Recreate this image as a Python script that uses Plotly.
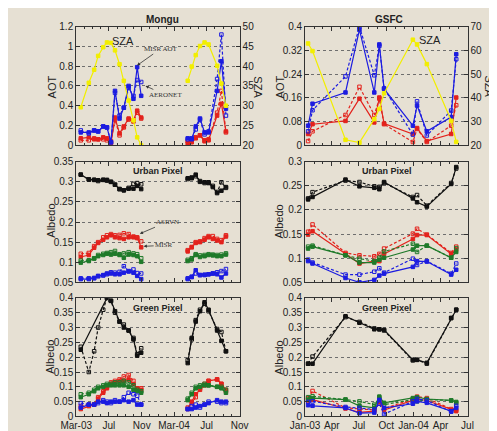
import plotly.graph_objects as go

# ---------------- data ----------------
# Mongu dates
mongu_03 = ["2003-03-18","2003-04-17","2003-05-07","2003-05-22","2003-06-10","2003-06-24","2003-07-09",
            "2003-07-24","2003-08-10","2003-08-26","2003-09-13","2003-10-01","2003-10-15","2003-10-30"]
mongu_04_aot = ["2004-04-21","2004-05-06","2004-05-21","2004-06-06","2004-06-23","2004-07-08",
                "2004-08-09","2004-08-25","2004-09-11"]
mongu_04_alb = ["2004-04-21","2004-05-06","2004-05-21","2004-06-06","2004-06-23","2004-07-08",
                "2004-07-24","2004-08-09","2004-08-25","2004-09-11"]
mongu_04_grn = mongu_04_aot

# Mongu AOT
m_blue_solid_03 = [0.13,0.13,0.15,0.14,0.19,0.18,0.03,0.55,0.27,0.38,0.60,0.47,0.79,0.50]
m_blue_dash_03  = [0.15,0.12,0.15,0.14,0.19,0.18,0.03,0.53,0.30,0.38,0.58,0.50,0.66,0.64]
m_red_solid_03  = [0.07,0.08,0.06,0.06,0.08,0.07,0.02,0.28,0.12,0.19,0.27,0.25,0.35,0.28]
m_red_dash_03   = [0.05,0.05,0.07,0.06,0.06,0.05,0.04,0.26,0.10,0.18,0.26,0.24,0.33,0.27]
m_blue_solid_04 = [0.07,0.06,0.19,0.27,0.13,0.13,0.55,0.85,0.37]
m_blue_dash_04  = [0.06,0.07,0.16,0.26,0.11,0.14,0.67,1.12,0.30]
m_red_solid_04  = [0.02,0.03,0.07,0.10,0.04,0.05,0.30,0.42,0.14]
m_red_dash_04   = [0.04,0.05,0.08,0.10,0.05,0.06,0.33,0.55,0.13]
m_sza_03 = [29.6,35.8,39.1,42.6,44.8,46.0,45.9,44.0,40.5,36.3,31.3,26.3,22.0,20.0]
m_sza_04 = [36.3,39.9,42.8,45.1,46.0,45.5,40.1,35.6,30.0]

# Mongu urban albedo
mu_black_s_03 = [0.318,0.306,0.305,0.304,0.305,0.305,0.300,0.293,0.282,0.279,0.283,0.283,0.290,0.282]
mu_black_d_03 = [0.318,0.306,0.305,0.302,0.305,0.303,0.300,0.293,0.282,0.279,0.285,0.295,0.297,0.294]
mu_red_s_03   = [0.113,0.118,0.136,0.148,0.156,0.162,0.167,0.162,0.160,0.158,0.162,0.162,0.160,0.137]
mu_red_d_03   = [0.121,0.123,0.140,0.150,0.162,0.167,0.170,0.167,0.168,0.172,0.170,0.164,0.162,0.152]
mu_green_s_03 = [0.099,0.103,0.109,0.115,0.118,0.121,0.119,0.121,0.118,0.111,0.119,0.118,0.115,0.101]
mu_green_d_03 = [0.104,0.105,0.110,0.118,0.121,0.123,0.125,0.128,0.120,0.122,0.125,0.122,0.120,0.110]
mu_blue_s_03  = [0.058,0.058,0.060,0.066,0.068,0.072,0.072,0.070,0.070,0.074,0.077,0.074,0.066,0.058]
mu_blue_d_03  = [0.060,0.060,0.061,0.065,0.067,0.070,0.075,0.074,0.076,0.090,0.078,0.082,0.073,0.072]
mu_black_s_04 = [0.309,0.309,0.318,0.300,0.299,0.297,0.287,0.272,0.278,0.287]
mu_black_d_04 = [0.307,0.311,0.314,0.302,0.297,0.299,0.290,0.275,0.299,0.285]
mu_red_s_04   = [0.127,0.137,0.148,0.150,0.156,0.162,0.158,0.154,0.150,0.164]
mu_red_d_04   = [0.130,0.138,0.150,0.152,0.160,0.165,0.165,0.158,0.155,0.167]
mu_green_s_04 = [0.103,0.107,0.118,0.113,0.115,0.118,0.117,0.115,0.115,0.119]
mu_green_d_04 = [0.106,0.110,0.120,0.117,0.118,0.120,0.119,0.118,0.119,0.122]
mu_blue_s_04  = [0.058,0.064,0.080,0.068,0.069,0.070,0.072,0.070,0.062,0.072]
mu_blue_d_04  = [0.060,0.063,0.072,0.068,0.068,0.070,0.072,0.075,0.078,0.083]

# Mongu green albedo
mg_black_s_03 = [0.225,None,None,None,None,0.400,0.390,0.355,0.320,0.300,0.290,0.260,0.205,0.215]
mg_black_d_03 = [0.235,0.150,0.220,0.300,0.360,0.400,0.390,0.350,0.320,0.310,0.290,0.265,0.210,0.230]
mg_red_s_03   = [0.025,0.035,0.040,0.060,0.080,0.095,0.110,0.115,0.120,0.120,0.125,0.110,0.095,0.090]
mg_red_d_03   = [0.035,0.040,0.040,0.065,0.085,0.100,0.115,0.120,0.125,0.135,0.140,0.120,0.095,0.095]
mg_green_s_03 = [0.065,0.075,0.085,0.095,0.100,0.105,0.105,0.105,0.105,0.105,0.100,0.090,0.085,0.080]
mg_green_d_03 = [0.075,0.080,0.090,0.100,0.105,0.110,0.110,0.115,0.115,0.120,0.115,0.105,0.090,0.085]
mg_blue_s_03  = [0.030,0.040,0.040,0.050,0.050,0.045,0.050,0.050,0.050,0.055,0.050,0.055,0.040,0.040]
mg_blue_d_03  = [0.045,0.040,0.040,0.045,0.055,0.050,0.045,0.055,0.050,0.065,0.080,0.075,0.070,0.040]
mg_black_s_04 = [0.180,0.265,0.320,0.355,0.385,0.360,0.290,0.255,0.220]
mg_black_d_04 = [0.190,0.260,0.325,0.360,0.380,0.355,0.295,0.285,0.220]
mg_red_s_04   = [0.025,0.050,0.075,0.090,0.105,0.120,0.125,0.110,0.090]
mg_red_d_04   = [0.030,0.045,0.065,0.095,0.110,0.120,0.125,0.110,0.085]
mg_green_s_04 = [0.055,0.075,0.095,0.100,0.105,0.105,0.100,0.095,0.080]
mg_green_d_04 = [0.060,0.080,0.100,0.105,0.110,0.105,0.100,0.100,0.090]
mg_blue_s_04  = [0.025,0.025,0.030,0.035,0.040,0.045,0.055,0.050,0.050]
mg_blue_d_04  = [0.025,0.035,0.040,0.030,0.040,0.050,0.050,0.045,0.045]

# GSFC dates
gsfc = ["2003-01-11","2003-01-26","2003-05-17","2003-07-03","2003-08-22","2003-09-08","2003-09-24",
        "2003-12-30","2004-01-13","2004-02-15","2004-05-07","2004-05-24"]
g_blue_solid = [0.066,0.140,0.178,0.390,0.178,0.340,0.190,0.066,0.134,0.047,0.095,0.307]
g_blue_dash  = [0.047,0.118,0.232,0.400,0.236,0.335,0.192,0.036,0.148,0.033,0.117,0.290]
g_red_solid  = [0.038,0.071,0.082,0.157,0.077,0.161,0.073,0.038,0.058,0.014,0.038,0.161]
g_red_dash   = [0.014,0.047,0.102,0.197,0.102,0.157,0.071,0.011,0.055,0.011,0.066,0.135]
g_sza        = [62.9,59.7,22.3,21.1,31.0,35.3,41.9,64.5,62.5,54.2,30.3,21.4]

gu_black_s = [0.222,0.227,0.263,0.249,0.246,0.243,0.258,0.224,0.216,0.207,0.254,0.289]
gu_black_d = [0.224,0.237,0.261,0.258,0.249,0.248,0.256,0.227,0.231,0.209,0.256,0.286]
gu_red_s   = [0.149,0.156,0.109,0.089,0.094,0.094,0.109,0.140,0.148,0.148,0.109,0.118]
gu_red_d   = [0.155,0.170,0.111,0.106,0.104,0.109,0.120,0.151,0.161,0.149,0.111,0.124]
gu_green_s = [0.120,0.124,0.106,0.091,0.091,0.097,0.101,0.118,0.126,0.126,0.101,0.113]
gu_green_d = [0.124,0.126,0.106,0.099,0.094,0.101,0.114,0.130,0.113,0.126,0.101,0.121]
gu_blue_s  = [0.094,0.089,0.059,0.050,0.055,0.064,0.068,0.082,0.094,0.093,0.066,0.076]
gu_blue_d  = [0.097,0.091,0.066,0.066,0.072,0.079,0.070,0.099,0.086,0.094,0.068,0.089]

gg_black_s = [0.178,0.178,0.338,0.316,0.294,0.294,0.292,0.191,0.191,0.181,0.332,0.360]
gg_black_d = [0.178,0.202,0.335,0.319,0.297,0.294,0.290,0.189,0.191,0.178,0.332,0.360]
gg_red_s   = [0.054,0.057,0.027,0.014,0.018,0.049,0.022,0.054,0.059,0.054,0.022,0.018]
gg_red_d   = [0.062,0.086,0.029,0.025,0.022,0.051,0.027,0.059,0.067,0.062,0.025,0.022]
gg_green_s = [0.057,0.062,0.057,0.036,0.029,0.067,0.046,0.062,0.065,0.059,0.054,0.049]
gg_green_d = [0.065,0.068,0.057,0.051,0.040,0.062,0.040,0.057,0.051,0.057,0.054,0.046]
gg_blue_s  = [0.038,0.036,0.029,0.011,0.013,0.056,0.029,0.043,0.051,0.046,0.018,0.029]
gg_blue_d  = [0.049,0.051,0.032,0.029,0.024,0.043,0.008,0.051,0.059,0.054,0.016,0.036]

left_tickvals = ["2003-03-01","2003-07-01","2003-11-01","2004-03-01","2004-07-01","2004-11-01"]
left_ticktext = ["Mar-03","Jul","Nov","Mar-04","Jul","Nov"]
right_tickvals = ["2003-01-01","2003-04-01","2003-07-01","2003-10-01","2004-01-01","2004-04-01","2004-07-01"]
right_ticktext = ["Jan-03","Apr","Jul","Oct","Jan-04","Apr","Jul"]

# ---------------- styles ----------------
BLACK = "#111111"; RED = "#e3221c"; GREEN = "#1f7a2a"; BLUE = "#1c1ce0"; YELLOW = "#f2ee00"
BG = "#e6e0d3"
W, H = 497, 431

fig = go.Figure()

def add(x, y, color, dashed, xa, ya, marker=None):
    fig.add_trace(go.Scatter(
        x=x, y=y, xaxis=xa, yaxis=ya, mode="lines+markers", connectgaps=True,
        line=dict(color=color, width=1.2, dash="3px,2px" if dashed else "solid"),
        marker=dict(symbol=marker or ("square-open" if dashed else "square"), size=3.5,
                    color=color, line=dict(color=color, width=1)),
        showlegend=False, hoverinfo="skip"))

# Mongu AOT
add(mongu_03, m_sza_03, YELLOW, False, "x", "y7")
add(mongu_04_aot, m_sza_04, YELLOW, False, "x", "y7")
for d, s, c in [(m_red_dash_03, m_red_solid_03, RED), (m_blue_dash_03, m_blue_solid_03, BLUE)]:
    add(mongu_03, d, c, True, "x", "y"); add(mongu_03, s, c, False, "x", "y")
for d, s, c in [(m_red_dash_04, m_red_solid_04, RED), (m_blue_dash_04, m_blue_solid_04, BLUE)]:
    add(mongu_04_aot, d, c, True, "x", "y"); add(mongu_04_aot, s, c, False, "x", "y")

# GSFC AOT
add(gsfc, g_sza, YELLOW, False, "x2", "y8")
add(gsfc, g_red_dash, RED, True, "x2", "y2"); add(gsfc, g_red_solid, RED, False, "x2", "y2")
add(gsfc, g_blue_dash, BLUE, True, "x2", "y2"); add(gsfc, g_blue_solid, BLUE, False, "x2", "y2")

# Mongu urban
for s3, d3, s4, d4, c in [
    (mu_black_s_03, mu_black_d_03, mu_black_s_04, mu_black_d_04, BLACK),
    (mu_red_s_03, mu_red_d_03, mu_red_s_04, mu_red_d_04, RED),
    (mu_green_s_03, mu_green_d_03, mu_green_s_04, mu_green_d_04, GREEN),
    (mu_blue_s_03, mu_blue_d_03, mu_blue_s_04, mu_blue_d_04, BLUE)]:
    add(mongu_03, d3, c, True, "x3", "y3"); add(mongu_03, s3, c, False, "x3", "y3")
    add(mongu_04_alb, d4, c, True, "x3", "y3"); add(mongu_04_alb, s4, c, False, "x3", "y3")

# GSFC urban
for s, d, c in [(gu_black_s, gu_black_d, BLACK), (gu_red_s, gu_red_d, RED),
                (gu_green_s, gu_green_d, GREEN), (gu_blue_s, gu_blue_d, BLUE)]:
    add(gsfc, d, c, True, "x4", "y4"); add(gsfc, s, c, False, "x4", "y4")

# Mongu green
for s3, d3, s4, d4, c in [
    (mg_black_s_03, mg_black_d_03, mg_black_s_04, mg_black_d_04, BLACK),
    (mg_red_s_03, mg_red_d_03, mg_red_s_04, mg_red_d_04, RED),
    (mg_green_s_03, mg_green_d_03, mg_green_s_04, mg_green_d_04, GREEN),
    (mg_blue_s_03, mg_blue_d_03, mg_blue_s_04, mg_blue_d_04, BLUE)]:
    add(mongu_03, d3, c, True, "x5", "y5"); add(mongu_03, s3, c, False, "x5", "y5")
    add(mongu_04_grn, d4, c, True, "x5", "y5"); add(mongu_04_grn, s4, c, False, "x5", "y5")

# GSFC green
for s, d, c in [(gg_black_s, gg_black_d, BLACK), (gg_red_s, gg_red_d, RED),
                (gg_green_s, gg_green_d, GREEN), (gg_blue_s, gg_blue_d, BLUE)]:
    add(gsfc, d, c, True, "x6", "y6"); add(gsfc, s, c, False, "x6", "y6")

# ---------------- layout ----------------
def px_x(p): return p / W
def px_y(p): return 1 - p / H

LX = [px_x(55), px_x(227)]
RX = [px_x(296), px_x(467)]
ROWS = [[px_y(135), px_y(13)], [px_y(276), px_y(152)], [px_y(414), px_y(292)]]

AX = dict(showline=True, linecolor="#333333", linewidth=1, ticks="inside", ticklen=4,
          tickcolor="#333333", tickfont=dict(size=10, color="#222222"), zeroline=False)
GRID = dict(showgrid=True, gridcolor="#6e6e6e", griddash="dot", gridwidth=1)

def xaxis(domain, anchor, left, show):
    d = dict(AX, domain=domain, anchor=anchor, type="date", showgrid=False, mirror="ticks",
             tickmode="array",
             tickvals=left_tickvals if left else right_tickvals,
             ticktext=left_ticktext if left else right_ticktext,
             range=["2003-03-01", "2004-11-01"] if left else ["2003-01-01", "2004-07-01"],
             showticklabels=show,
             minor=dict(ticks="inside", ticklen=2, dtick="M1", tick0="2003-01-01", tickcolor="#333333"))
    return d

def yaxis(domain, anchor, rng, dtick, mirror="ticks"):
    return dict(AX, **GRID, domain=domain, anchor=anchor, range=rng, dtick=dtick, tick0=0,
                mirror=mirror)

layout = dict(
    width=W, height=H, margin=dict(l=0, r=0, t=0, b=0),
    paper_bgcolor=BG, plot_bgcolor=BG,
    font=dict(family="Liberation Sans, Arial, sans-serif", color="#222222"),
    xaxis=xaxis(LX, "y", True, False),
    xaxis2=xaxis(RX, "y2", False, False),
    xaxis3=xaxis(LX, "y3", True, False),
    xaxis4=xaxis(RX, "y4", False, False),
    xaxis5=xaxis(LX, "y5", True, True),
    xaxis6=xaxis(RX, "y6", False, True),
    yaxis=yaxis(ROWS[0], "x", [0, 1.2], 0.2, mirror=True),
    yaxis2=yaxis(ROWS[0], "x2", [0, 0.4], 0.08, mirror=True),
    yaxis3=yaxis(ROWS[1], "x3", [0.05, 0.35], 0.05),
    yaxis4=yaxis(ROWS[1], "x4", [0.05, 0.3], 0.05),
    yaxis5=yaxis(ROWS[2], "x5", [0, 0.4], 0.05),
    yaxis6=yaxis(ROWS[2], "x6", [0, 0.4], 0.05),
    yaxis7=dict(AX, overlaying="y", anchor="x", side="right", range=[20, 50], dtick=5, showgrid=False),
    yaxis8=dict(AX, overlaying="y2", anchor="x2", side="right", range=[20, 70], dtick=10, showgrid=False),
)
fig.update_layout(**layout)

def text(s, x, y, size=11, bold=False, angle=0, family=None, color="#222222"):
    fig.add_annotation(text=f"<b>{s}</b>" if bold else s, x=px_x(x), y=px_y(y), xref="paper", yref="paper",
                       showarrow=False, textangle=angle,
                       font=dict(size=size, family=family or "Liberation Sans, Arial, sans-serif", color=color),
                       xanchor="center", yanchor="middle")

def arrow(s, tipx, tipy, ax, ay):
    fig.add_annotation(text=s, x=px_x(tipx), y=px_y(tipy), xref="paper", yref="paper",
                       showarrow=True, ax=ax, ay=ay, arrowhead=2, arrowsize=0.8, arrowwidth=0.8,
                       arrowcolor="#333333",
                       font=dict(size=7, family="Liberation Serif, Times New Roman, serif", color="#333333"))

text("Mongu", 146, 6, size=10, bold=True)
text("GSFC", 384, 6, size=10, bold=True)
text("AOT", 29, 75, size=11, angle=-90)
text("SZA", 247, 75, size=11, angle=90)
text("AOT", 269, 75, size=11, angle=-90)
text("SZA", 490, 75, size=11, angle=90)
text("Albedo", 28, 213, size=11, angle=-90)
text("Albedo", 269, 213, size=11, angle=-90)
text("Albedo", 28, 353, size=11, angle=-90)
text("Albedo", 269, 353, size=11, angle=-90)
text("SZA", 104, 28, size=11)
text("SZA", 427, 27, size=11)
text("Urban Pixel", 141, 162, size=9, bold=True)
text("Urban Pixel", 382, 162, size=9, bold=True)
text("Green Pixel", 141, 302, size=9, bold=True)
text("Green Pixel", 382, 302, size=9, bold=True)

arrow("MISR AOT", 119, 53, 24, -17)
arrow("AERONET", 128, 74, 20, 9)
arrow("ASRVN", 122, 226, 28, -12)
arrow("MISR", 126, 239, 20, -1)

fig.write_html("out.html")
